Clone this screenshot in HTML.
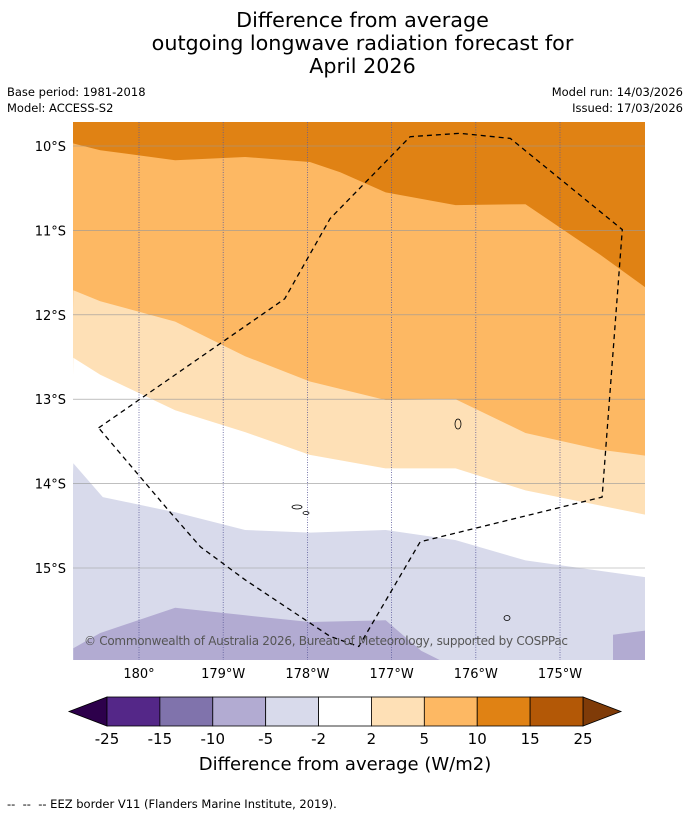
<!DOCTYPE html>
<html><head><meta charset="utf-8"><style>
body{margin:0;background:#fff;font-family:"DejaVu Sans","Liberation Sans",sans-serif;}
#wrap{position:relative;width:690px;height:816px;overflow:hidden;}
.t{position:absolute;font-size:11.5px;color:#000;}
svg text{font-family:"DejaVu Sans","Liberation Sans",sans-serif;}
</style></head><body>
<div id="wrap">
<div style="position:absolute;left:0;top:9px;width:725px;text-align:center;font-size:20.7px;line-height:23px;">Difference from average<br>outgoing longwave radiation forecast for<br>April 2026</div>
<div class="t" style="left:7px;top:85px">Base period: 1981-2018</div>
<div class="t" style="left:7px;top:101px">Model: ACCESS-S2</div>
<div class="t" style="right:7px;top:85px;text-align:right">Model run: 14/03/2026</div>
<div class="t" style="right:7px;top:101px;text-align:right">Issued: 17/03/2026</div>
<svg id="svg" width="690" height="816" style="position:absolute;left:0;top:0"></svg>
<div class="t" style="left:7px;top:797px">-- &nbsp;-- &nbsp;-- EEZ border V11 (Flanders Marine Institute, 2019).</div>
</div>
<script>
// lon in "degrees east from 0" (180 = dateline, 181 = 179°W), lat in degrees (negative south)
const lonTicks=[180,181,182,183,184,185];
const latTicks=[-10,-11,-12,-13,-14,-15];
const bandLevels=["-25","-15","-10","-5","-2","2","5","10","15","25"];
const bandColors=["#542788","#8073ac","#b2abd2","#d8daeb","#ffffff","#fee0b6","#fdb863","#e08214","#b35806"];
const edge10=[[179.22,-9.97],[179.54,-10.05],[180.43,-10.17],[181.26,-10.13],[182.03,-10.19],[182.39,-10.31],[182.93,-10.55],[183.76,-10.70],[184.59,-10.69],[185.48,-11.29],[186.02,-11.68]];
const edge5=[[179.22,-11.71],[179.54,-11.84],[180.43,-12.08],[181.26,-12.49],[182.03,-12.79],[182.93,-13.01],[183.76,-13.00],[184.59,-13.40],[185.48,-13.60],[186.02,-13.67]];
const edge2=[[179.22,-12.51],[179.54,-12.71],[180.43,-13.13],[181.26,-13.39],[182.03,-13.66],[182.93,-13.82],[183.76,-13.82],[184.59,-14.08],[186.02,-14.37]];
const edgeM2=[[179.22,-13.76],[179.57,-14.16],[180.43,-14.34],[181.26,-14.55],[182.03,-14.58],[182.93,-14.55],[183.76,-14.67],[184.59,-14.91],[186.02,-15.11]];
const patchM5=[[179.22,-16.10],[179.22,-15.95],[179.54,-15.77],[180.43,-15.47],[181.26,-15.56],[182.03,-15.64],[182.93,-15.62],[183.35,-15.98],[183.59,-16.10]];
const patchM5b=[[185.63,-16.10],[185.63,-15.79],[186.02,-15.74],[186.02,-16.10]];
const eez=[[179.52,-13.34],[181.73,-11.81],[182.27,-10.86],[183.22,-9.89],[183.81,-9.85],[184.41,-9.91],[185.74,-10.99],[185.50,-14.16],[183.34,-14.69],[182.61,-15.93],[182.27,-15.81],[181.26,-15.14],[180.73,-14.75],[180.37,-14.34],[179.52,-13.34]];
const X0=73,X1=645,Y0=122,Y1=660;
const x=l=>139+(l-180)*84.2;
const y=la=>146+(-10-la)*84.4;
const svg=document.getElementById('svg');const NS="http://www.w3.org/2000/svg";
function mk(t,a,p){const e=document.createElementNS(NS,t);for(const k in a)e.setAttribute(k,a[k]);(p||svg).appendChild(e);return e;}
const defs=mk('defs',{});const cp=mk('clipPath',{id:'c'},defs);mk('rect',{x:X0,y:Y0,width:X1-X0,height:Y1-Y0},cp);
const g=mk('g',{'clip-path':'url(#c)'});

const pts=a=>a.map(p=>x(p[0]).toFixed(1)+','+y(p[1]).toFixed(1)).join(' L');
function band(edge,toTop,color,name){
  const d='M'+pts(edge)+(toTop?` L${X1+5},${Y0-5} L${X0-5},${Y0-5}Z`:` L${X1+5},${Y1+5} L${X0-5},${Y1+5}Z`);
  const e=mk('path',{d:d,fill:color},g);
  
}
function poly(a,color,name){const e=mk('path',{d:'M'+pts(a)+'Z',fill:color},g);}
mk('rect',{x:X0,y:Y0,width:X1-X0,height:Y1-Y0,fill:'#fdb863'},g);
band(edge5,false,'#fee0b6','band-2-5');
band(edge2,false,'#ffffff','band-neutral');
band(edgeM2,false,'#d8daeb','band-minus2-minus5');
poly(patchM5,'#b2abd2','band-minus5-minus10');
poly(patchM5b,'#b2abd2','band-minus5-minus10-east');
band(edge10,true,'#e08214','band-10-15');
lonTicks.forEach(l=>{const e=mk('line',{x1:x(l),x2:x(l),y1:Y0,y2:Y1,stroke:'#5a5a9a','stroke-width':0.8,'stroke-dasharray':'1,1.5'},g);});
latTicks.forEach(la=>{const e=mk('line',{x1:X0,x2:X1,y1:y(la),y2:y(la),stroke:'#999','stroke-width':0.6},g);});
[[458,424,3,5],[297,507,5,2],[306,513,3,1.5],[507,618,3,2.5]].forEach(c=>{const e=mk('ellipse',{cx:c[0],cy:c[1],rx:c[2],ry:c[3],fill:'none',stroke:'#000','stroke-width':0.8},g);});
const eezP=mk('path',{d:'M'+pts(eez),fill:'none',stroke:'#000','stroke-width':1.3,'stroke-dasharray':'5,4'},g);

const cr=mk('text',{x:84,y:645,'font-size':12,fill:'#555',textLength:484},g);cr.textContent='© Commonwealth of Australia 2026, Bureau of Meteorology, supported by COSPPac';

lonTicks.forEach(l=>{const t=mk('text',{x:x(l),y:678,'font-size':13,'text-anchor':'middle'});t.textContent=l===180?'180°':(360-l)+'°W';});
latTicks.forEach(la=>{const t=mk('text',{x:66,y:y(la)+5,'font-size':13,'text-anchor':'end'});t.textContent=(-la)+'°S';});
const cbX=107,cbW=476/9,cbY=697,cbH=29;
let e=mk('polygon',{points:`${cbX},${cbY} ${cbX},${cbY+cbH} 69,${cbY+cbH/2}`,fill:'#2d004b',stroke:'#000','stroke-width':0.8});
e=mk('polygon',{points:`${cbX+9*cbW},${cbY} ${cbX+9*cbW},${cbY+cbH} 621,${cbY+cbH/2}`,fill:'#7f3b08',stroke:'#000','stroke-width':0.8});
bandColors.forEach((c,i)=>{const r=mk('rect',{x:cbX+i*cbW,y:cbY,width:cbW,height:cbH,fill:c,stroke:'#000','stroke-width':0.8});});
bandLevels.forEach((s,i)=>{const t=mk('text',{x:cbX+i*cbW,y:744,'font-size':15,'text-anchor':'middle'});t.textContent=s;});
const ct=mk('text',{x:345,y:770,'font-size':18,'text-anchor':'middle'});ct.textContent='Difference from average (W/m2)';

</script>
</body></html>
